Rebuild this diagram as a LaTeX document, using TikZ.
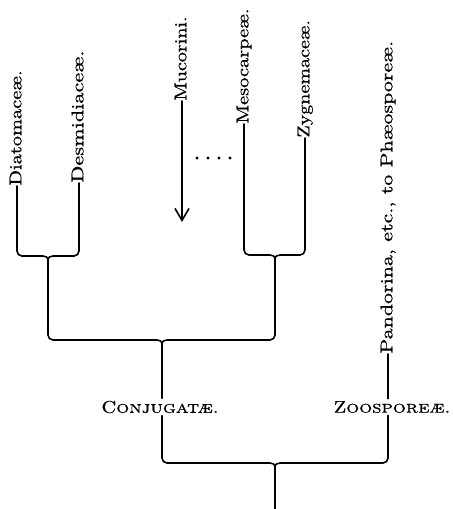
\documentclass[tikz,border=0pt]{standalone}
\usepackage{graphicx}
\usepackage{fontspec}
\setmainfont{lmroman10-regular.otf}[FakeBold=0.6,
  SmallCapsFont=lmromancaps10-regular.otf, SmallCapsFeatures={FakeBold=0.6}]
\usetikzlibrary{arrows.meta}
\newcommand{\lbltxt}[2][1.2]{\scalebox{#1}[1]{#2}}
\tikzset{
  leaf/.style={rotate=90, anchor=mid west, inner sep=0pt, font=\fontsize{8.5}{10}\selectfont},
  group/.style={inner sep=1pt, font=\fontsize{8.5}{10}\selectfont},
  branch/.style={line width=0.8pt, line cap=round, line join=round},
  dotmark/.style={circle, fill=black, inner sep=0pt, minimum size=1.6pt},
}
\begin{document}
\begin{tikzpicture}[x=0.5pt,y=-0.5pt]
\useasboundingbox (0,0) rectangle (453,509);
% leaf labels
\node[leaf] (dia) at (17,186) {\lbltxt{Diatomaceæ.}};
\node[leaf] (des) at (79,183) {\lbltxt[1.31]{Desmidiaceæ.}};
\node[leaf] (muc) at (182,101) {\lbltxt[1.18]{Mucorini.}};
\node[leaf] (mes) at (244,124) {\lbltxt{Mesocarpeæ.}};
\node[leaf] (zyg) at (305,138) {\lbltxt[1.18]{Zygnemaceæ.}};
\node[leaf] (pan) at (388,354) {\lbltxt[1.29]{Pandorina, etc., to Phæosporeæ.}};
% group labels
\node[group] (con) at (160,407) {\lbltxt{C\textsc{onjugatæ}.}};
\node[group] (zoo) at (392,407) {\lbltxt{Z\textsc{oosporeæ}.}};
% free ends
\coordinate (mucend) at (182,222);
\coordinate (root) at (275,509);
% dots
\foreach \i/\x in {1/197,2/208,3/219,4/230}
  \node[dotmark] (dot\i) at (\x,158) {};
% Mucorini arrow
\draw[branch, -{Straight Barb[length=6pt,width=7pt,line width=0.8pt]}] (muc.mid west) -- (mucend);
% brace A (Diatomaceae / Desmidiaceae) and big brace C left half
\draw[branch] (dia.mid west) -- (17,251) to[out=-90,in=180] (22,256) -- (43,256)
  .. controls (46,256) and (48,257) .. (48,261) -- (48,335)
  to[out=-90,in=180] (53,340) -- (157,340)
  .. controls (160,340) and (162,341) .. (162,345) -- (con.north -| 162,0);
\draw[branch] (des.mid west) -- (79,251) to[out=-90,in=0] (74,256) -- (53,256)
  .. controls (50,256) and (48,257) .. (48,261);
% brace B (Mesocarpeae / Zygnemaceae) and big brace C right half
\draw[branch] (mes.mid west) -- (244,250) to[out=-90,in=180] (249,255) -- (270,255)
  .. controls (273,255) and (275,256) .. (275,260) -- (275,335)
  to[out=-90,in=0] (270,340) -- (167,340)
  .. controls (164,340) and (162,341) .. (162,345);
\draw[branch] (zyg.mid west) -- (305,250) to[out=-90,in=0] (300,255) -- (280,255)
  .. controls (277,255) and (275,256) .. (275,260);
% brace D (Conjugatae / Zoosporeae)
\draw[branch] (con.south -| 162,0) -- (162,458) to[out=-90,in=180] (167,463) -- (270,463)
  .. controls (273,463) and (275,464) .. (275,468) -- (root);
\draw[branch] (pan.mid west) -- (zoo.north -| pan.mid west);
\draw[branch] (zoo.south -| pan.mid west) -- (388,458) to[out=-90,in=0] (383,463) -- (280,463)
  .. controls (277,463) and (275,464) .. (275,468);
\end{tikzpicture}
\end{document}
